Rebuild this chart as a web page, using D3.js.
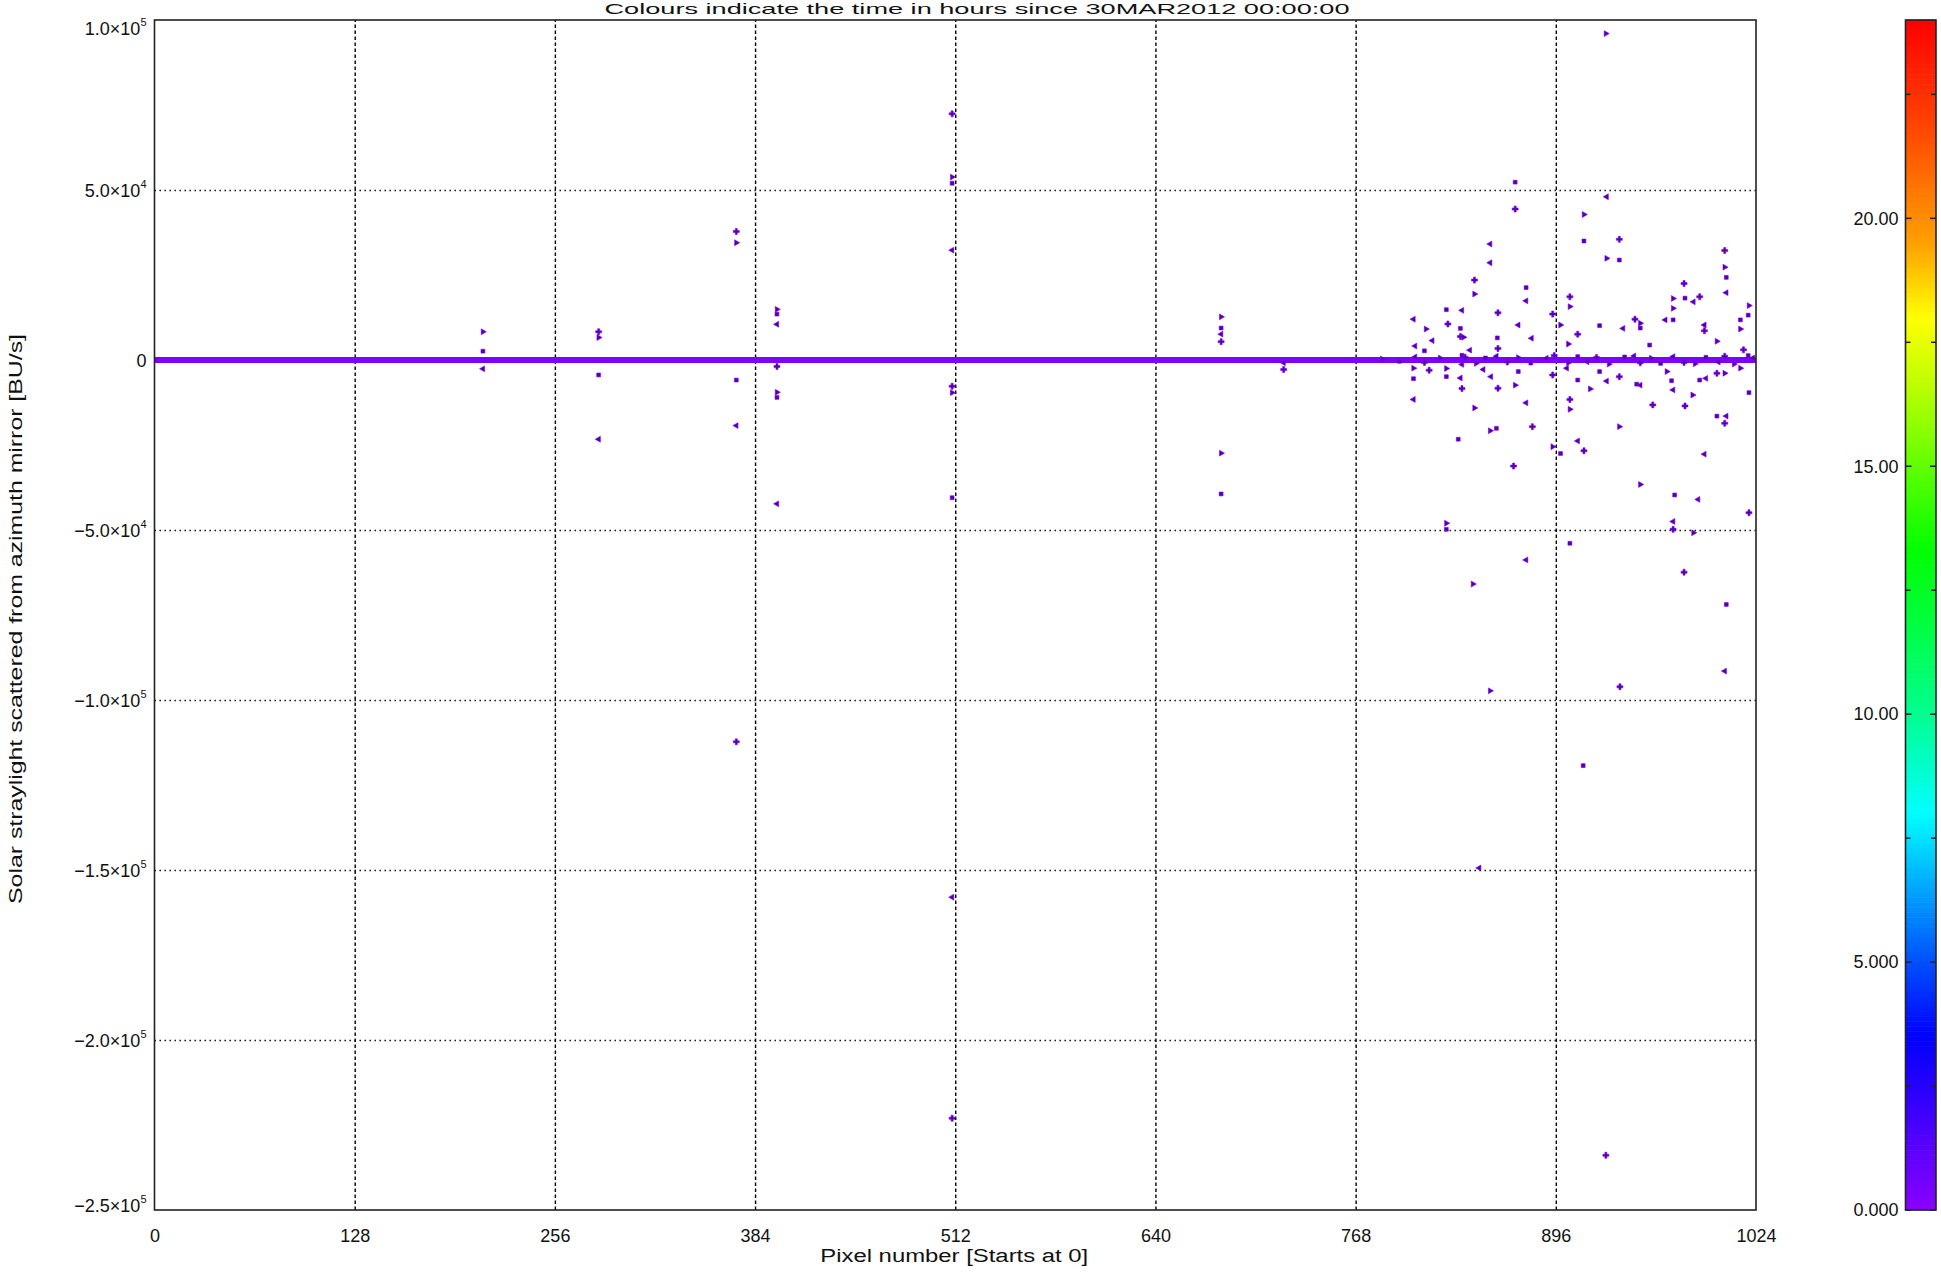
<!DOCTYPE html>
<html>
<head>
<meta charset="utf-8">
<script src="https://cdn.jsdelivr.net/npm/d3@7"></script>
<style>
  html, body { margin: 0; padding: 0; background: #fff; }
  svg { display: block; }
  text { font-family: "Liberation Sans", Arial, "DejaVu Sans", sans-serif; fill: #111; }
</style>
</head>
<body>
<svg id="chart" width="1941" height="1276"></svg>
<script>
// ---------------- DATA ----------------
const titleText = "Colours indicate the time in hours since 30MAR2012 00:00:00";
const xAxisTitle = "Pixel number [Starts at 0]";
const yAxisTitle = "Solar straylight scattered from azimuth mirror [BU/s]";

const xTicks = [0, 128, 256, 384, 512, 640, 768, 896, 1024];
const xTickLabels = ["0", "128", "256", "384", "512", "640", "768", "896", "1024"];

const yTicks = [1e5, 5e4, 0, -5e4, -1e5, -1.5e5, -2e5, -2.5e5];
const yTickMantissa = ["1.0\u00d710", "5.0\u00d710", "0", "\u22125.0\u00d710", "\u22121.0\u00d710", "\u22121.5\u00d710", "\u22122.0\u00d710", "\u22122.5\u00d710"];
const yTickExponent = ["5", "4", "", "4", "5", "5", "5", "5"];

const colorTicks = [0, 5, 10, 15, 20];
const colorTickLabels = ["0.000", "5.000", "10.00", "15.00", "20.00"];
const colorMinorTicks = [2.5, 7.5, 12.5, 17.5, 22.5];
const colorDomain = [0, 24];
// colour table stops (hours -> colour)
const colorStopValues = [0, 3.5, 5, 8, 10, 13.3, 15, 16.7, 18, 19.5, 22, 24];
const colorStopColors = ["#8a00ff", "#0000ff", "#0050ff", "#00ffff", "#00ff90", "#00ff00", "#60ff00", "#c0ff00", "#ffff00", "#ffa000", "#ff4000", "#ff0000"];

// continuous near-zero band (pixel range, value)
const baselinePixels = [0, 1024];
const baselineValues = [0, 0];
const seriesTime = 0.3; // all observations early (purple)

// scattered outliers: pixel number
const pointPixels = [
  210, 210, 210,
  284, 284, 284, 284,
  372, 372, 372, 372, 372,
  398, 398, 398, 398, 398, 398, 398,
  510, 510, 510, 510, 510, 510, 510, 510, 510,
  682, 682, 682, 682, 682, 682,
  722, 722,
  928,
  870, 928.5, 870, 914, 914, 854, 936.6, 928.5, 936.6, 854, 844, 844, 877, 877,
  1004, 1004, 1005, 1005, 978, 971, 978.6, 984, 988, 971, 971, 966, 905, 905,
  826, 836, 859, 1019.5, 1019, 805, 827, 813, 835, 872, 894, 899, 924, 939,
  946.6, 950, 950, 991, 991, 1014, 1014, 817, 835, 837, 858.6, 880.5, 910,
  999, 956, 806, 859, 904, 812, 841, 1016,
  805, 805, 805, 815, 826, 826, 835, 836, 844, 833.6, 849.6, 859, 870, 872,
  877, 881, 854, 858, 854.5, 894, 894, 899, 903, 905, 905, 910, 910, 914,
  918, 924, 928.5, 936.6, 936.6, 947.7, 950, 958, 967, 970, 971, 978.6,
  983.5, 988, 992, 999, 1004, 999, 1005, 1004, 1014, 1019.5, 991,
  869, 950, 972, 987, 1019.5, 826, 826, 971, 971, 984, 905, 877, 978, 843,
  1005, 1004, 937, 854, 913.5, 847, 928,
  785, 796, 806, 812, 822, 836, 836, 838, 845, 851, 858, 865, 872, 880, 890,
  895, 904, 910, 916, 922, 930, 940, 946, 950, 957, 963, 971, 978, 985,
  992, 1000, 1004, 1010, 1019, 1022
];
// scattered outliers: value [BU/s]
const pointValues = [
  8300, 2600, -2600,
  8300, 6600, -4400, -23300,
  37800, 34500, -5900, -19300, -112300,
  14900, 13500, 10500, -1900, -9500, -11000, -42300,
  72400, 53800, 52000, 32300, -7700, -9600, -40500, -158000, -223000,
  12700, 9400, 7600, 5400, -27400, -39400,
  -800, -2800,
  96000,
  52300, 48000, 44400, 42800, 35000, 34100, 35500, 29900, 29400, 28600, 23500, 19400, 21300, 17400,
  32200, 27300, 24300, 19800, 22500, 18100, 18200, 17100, 18600, 15200, 11800, 11800, 18600, 15700,
  14800, 14600, 13900, 16000, 13200, 12000, 10600, 9100, 9300, 10300, 13500, 10300, 10100, 9300,
  12000, 10800, 9400, 10300, 8600, 9100, 11800, 5700, 6900, 6700, 6500, 6400, 7600,
  5500, 4400, 4100, 3400, 4700, 2700, 2900, 3000,
  -2400, -5500, -11600, -3000, -2500, -4900, -5300, -8400, -14100, -23300, -2800, -8300, -7400, -3400,
  -12600, -19600, -20800, -20100, -4900, -4400, -25500, -27500, -2400, -11600, -14500, -5900, -23800, -26700,
  -8500, -3400, -6200, -4900, -19600, -7100, -7400, -13200, -3400, -6100, -8800, -13500,
  -10300, -5900, -5400, -3900, -3900, -16500, -16500, -18600, -2400, -9600, -27700,
  -31200, -36600, -39700, -41000, -44900, -48000, -49800, -47500, -49800, -50800, -53900, -58800, -62400, -65900,
  -71900, -91500, -96100, -97300, -119300, -149400, -233900,
  300, -400, 900, -700, 600, 1400, -1300, 800, -1000, 600, 1100, -600, 700, -900, 500,
  1300, -800, 1000, -500, 700, -1200, 900, 1200, -800, 500, -1000, 1000, -700, -1100,
  800, -600, 1100, -1200, 1300, 600
];

// ---------------- LAYOUT ----------------
const svg = d3.select("#chart");
const plot = {left: 154.5, right: 1756, top: 20, bottom: 1210};
const cbar = {left: 1905.5, right: 1936, top: 20, bottom: 1210};

const x = d3.scaleLinear().domain([0, 1024]).range([plot.left, plot.right]);
const y = d3.scaleLinear().domain([-2.5e5, 1e5]).range([plot.bottom, plot.top]);
const cy = d3.scaleLinear().domain(colorDomain).range([cbar.bottom, cbar.top]);
const colour = d3.scaleLinear().domain(colorStopValues).range(colorStopColors).interpolate(d3.interpolateRgb).clamp(true);

// ---------------- TITLE ----------------
svg.append("text")
  .attr("x", 977).attr("y", 14)
  .attr("text-anchor", "middle")
  .attr("font-size", 15)
  .attr("textLength", 745).attr("lengthAdjust", "spacingAndGlyphs")
  .text(titleText);

// ---------------- GRID via axes ----------------
const plotW = plot.right - plot.left, plotH = plot.bottom - plot.top;

const gx = svg.append("g")
  .attr("transform", `translate(0,${plot.bottom})`)
  .call(d3.axisBottom(x).tickValues(xTicks).tickSize(-plotH).tickPadding(19.5)
        .tickFormat((d, i) => xTickLabels[i]));
gx.select(".domain").remove();
gx.selectAll(".tick line")
  .attr("stroke", "#000").attr("stroke-width", 1.4)
  .attr("stroke-dasharray", "3.5,2.5")
  .attr("display", d => (d === 0 || d === 1024) ? "none" : null);
gx.selectAll(".tick text").attr("font-size", 18).attr("fill", "#111")
  .attr("font-family", "Liberation Sans, Arial, sans-serif");

const gy = svg.append("g")
  .attr("transform", `translate(${plot.left},0)`)
  .call(d3.axisLeft(y).tickValues(yTicks).tickSize(-plotW).tickPadding(8).tickFormat(() => ""));
gy.select(".domain").remove();
gy.selectAll(".tick line")
  .attr("stroke", "#000").attr("stroke-width", 1.4)
  .attr("stroke-dasharray", "1.4,3.6")
  .attr("display", d => (d === 1e5 || d === -2.5e5) ? "none" : null);
gy.selectAll(".tick text").each(function(d, i) {
  const t = d3.select(this);
  const py = y(d);
  // keep end labels inside the frame like the original
  const shift = Math.max(py, 28) - py + (Math.min(py, 1205) - py);
  t.attr("font-size", 18).attr("fill", "#111").attr("dy", null)
   .attr("y", shift).attr("dominant-baseline", "central")
   .attr("font-family", "Liberation Sans, Arial, sans-serif");
  t.append("tspan").text(yTickMantissa[i]);
  if (yTickExponent[i]) {
    t.append("tspan").attr("font-size", 11).attr("dy", -7).text(yTickExponent[i]);
  }
});

// ---------------- DATA MARKS ----------------
const clipId = "plotclip";
svg.append("clipPath").attr("id", clipId).append("rect")
  .attr("x", plot.left).attr("y", plot.top).attr("width", plotW).attr("height", plotH);
const marks = svg.append("g").attr("clip-path", `url(#${clipId})`);

const baseColour = colour(seriesTime);

const line = d3.line().x(d => x(d[0])).y(d => y(d[1]));
marks.append("path")
  .datum(baselinePixels.map((p, i) => [p, baselineValues[i]]))
  .attr("d", line)
  .attr("fill", "none")
  .attr("stroke", baseColour)
  .attr("stroke-width", 6);

const symTypes = [d3.symbolTriangle, d3.symbolSquare, d3.symbolTriangle, d3.symbolCross];
const pts = pointPixels.map((p, i) => ({p, v: pointValues[i], i}));
marks.selectAll("path.pt")
  .data(pts)
  .join("path")
  .attr("class", "pt")
  .attr("d", d => d3.symbol().type(symTypes[d.i % 4]).size(d.i % 4 === 3 ? 20 : 15)())
  .attr("transform", d => `translate(${x(d.p)},${y(d.v)}) rotate(${(d.i % 4) * 90 + 90})`)
  .attr("fill", d3.color(baseColour).darker(1.2))
  .attr("stroke", baseColour)
  .attr("stroke-width", 0.6);

// ---------------- FRAME ----------------
svg.append("rect")
  .attr("x", plot.left).attr("y", plot.top).attr("width", plotW).attr("height", plotH)
  .attr("fill", "none").attr("stroke", "#222").attr("stroke-width", 1.6);

// ---------------- AXIS TITLES ----------------
svg.append("text")
  .attr("x", (plot.left + plot.right) / 2 - 1).attr("y", 1262)
  .attr("text-anchor", "middle").attr("font-size", 18)
  .attr("textLength", 268).attr("lengthAdjust", "spacingAndGlyphs")
  .text(xAxisTitle);

svg.append("text")
  .attr("transform", `translate(22,${(plot.top + plot.bottom) / 2 + 4}) rotate(-90)`)
  .attr("text-anchor", "middle").attr("font-size", 18)
  .attr("textLength", 570).attr("lengthAdjust", "spacingAndGlyphs")
  .text(yAxisTitle);

// ---------------- COLOUR BAR ----------------
const cb = svg.append("g");
const steps = d3.range(0, 240).map(k => colorDomain[0] + (colorDomain[1] - colorDomain[0]) * k / 240);
const stepH = (colorDomain[1] - colorDomain[0]) / 240;
cb.selectAll("rect.cs").data(steps).join("rect")
  .attr("class", "cs")
  .attr("x", cbar.left).attr("width", cbar.right - cbar.left)
  .attr("y", d => cy(d + stepH) - 0.3)
  .attr("height", d => cy(d) - cy(d + stepH) + 0.6)
  .attr("fill", d => colour(d + stepH / 2));

const cAxis = cb.append("g").attr("transform", `translate(${cbar.left},0)`)
  .call(d3.axisLeft(cy).tickValues(colorTicks).tickSize(0).tickPadding(7)
        .tickFormat((d, i) => colorTickLabels[i]));
cAxis.select(".domain").remove();
cAxis.selectAll("text").attr("font-size", 18).attr("fill", "#111")
  .attr("font-family", "Liberation Sans, Arial, sans-serif");

const allTicks = colorTicks.map(v => ({v, len: 6})).concat(colorMinorTicks.map(v => ({v, len: 5})));
cb.selectAll("line.tl").data(allTicks).join("line").attr("class", "tl")
  .attr("x1", cbar.left).attr("x2", d => cbar.left + d.len)
  .attr("y1", d => cy(d.v)).attr("y2", d => cy(d.v))
  .attr("stroke", "#222").attr("stroke-width", 1.5);
cb.selectAll("line.tr").data(allTicks).join("line").attr("class", "tr")
  .attr("x1", cbar.right).attr("x2", d => cbar.right - d.len)
  .attr("y1", d => cy(d.v)).attr("y2", d => cy(d.v))
  .attr("stroke", "#222").attr("stroke-width", 1.5);

cb.append("rect")
  .attr("x", cbar.left).attr("y", cbar.top)
  .attr("width", cbar.right - cbar.left).attr("height", cbar.bottom - cbar.top)
  .attr("fill", "none").attr("stroke", "#222").attr("stroke-width", 1.6);
</script>
</body>
</html>
